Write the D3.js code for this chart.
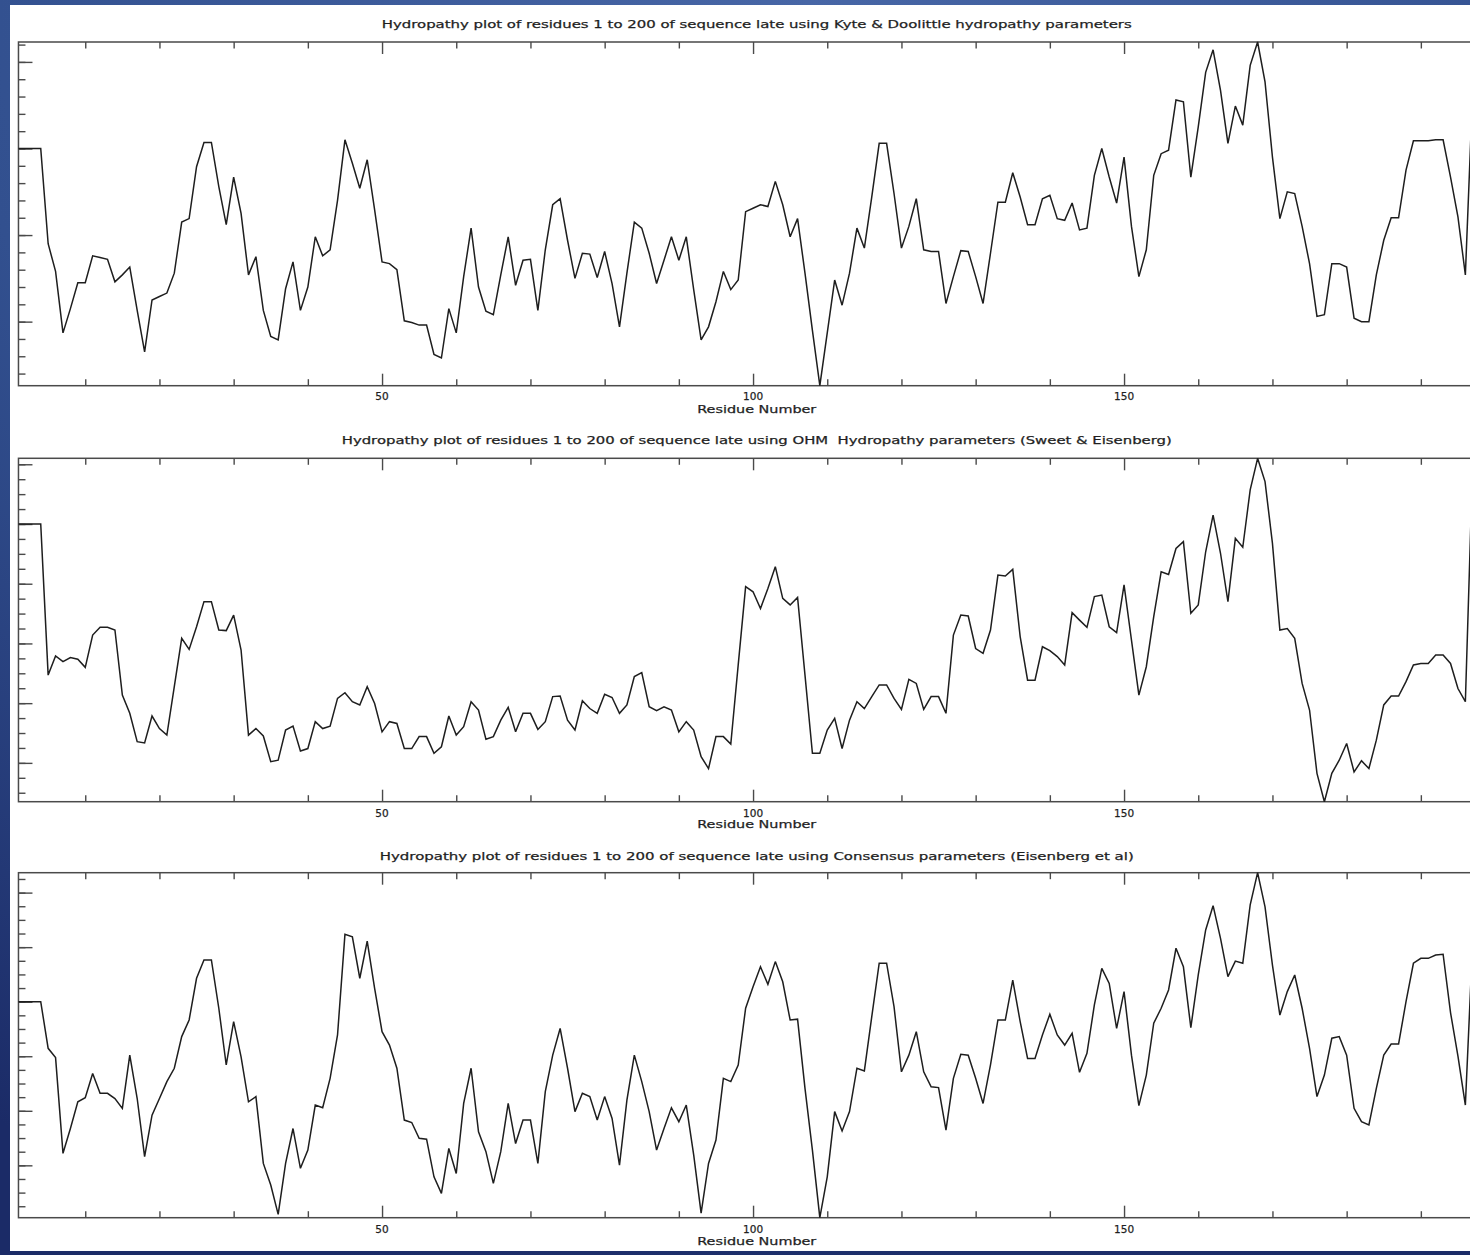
<!DOCTYPE html>
<html><head><meta charset="utf-8">
<script src="https://cdn.jsdelivr.net/npm/d3@7/dist/d3.min.js"></script>
<style>html,body{margin:0;padding:0;background:#fff;overflow:hidden}svg{display:block}</style>
</head><body>
<svg id="c" width="1470" height="1255"></svg>
<script>
// ---------- DATA ----------
const residueStart = 1;
const residueEnd = 200;

const kyteDoolittle = [
 0, 0, 0, 0, -1.10, -1.42, -2.13, -1.85, -1.55, -1.55,
 -1.24, -1.26, -1.28, -1.54, -1.46, -1.37, -1.87, -2.35, -1.75, -1.71,
 -1.67, -1.44, -0.85, -0.81, -0.21, 0.07, 0.07, -0.44, -0.88, -0.33,
 -0.75, -1.46, -1.25, -1.87, -2.17, -2.21, -1.62, -1.31, -1.87, -1.60,
 -1.02, -1.24, -1.17, -0.60, 0.10, -0.17, -0.46, -0.13, -0.71, -1.31,
 -1.33, -1.40, -1.99, -2.01, -2.04, -2.04, -2.38, -2.42, -1.85, -2.13,
 -1.48, -0.92, -1.60, -1.88, -1.92, -1.46, -1.02, -1.58, -1.29, -1.28,
 -1.87, -1.17, -0.65, -0.58, -1.06, -1.50, -1.21, -1.22, -1.49, -1.19,
 -1.56, -2.06, -1.44, -0.85, -0.92, -1.21, -1.56, -1.29, -1.02, -1.29,
 -1.02, -1.63, -2.21, -2.06, -1.77, -1.42, -1.63, -1.52, -0.73, -0.69,
 -0.65, -0.67, -0.38, -0.65, -1.02, -0.81, -1.44, -2.10, -2.74, -2.13,
 -1.52, -1.81, -1.44, -0.92, -1.15, -0.56, 0.06, 0.06, -0.52, -1.15,
 -0.90, -0.58, -1.17, -1.19, -1.19, -1.79, -1.48, -1.18, -1.19, -1.48,
 -1.79, -1.21, -0.62, -0.62, -0.28, -0.56, -0.88, -0.88, -0.58, -0.54,
 -0.81, -0.83, -0.63, -0.94, -0.92, -0.31, 0.00, -0.33, -0.63, -0.10,
 -0.90, -1.48, -1.17, -0.31, -0.06, -0.02, 0.56, 0.54, -0.33, 0.25,
 0.88, 1.14, 0.67, 0.06, 0.49, 0.27, 0.96, 1.23, 0.77, -0.10,
 -0.81, -0.50, -0.52, -0.90, -1.33, -1.94, -1.92, -1.33, -1.33, -1.37,
 -1.96, -2.00, -2.00, -1.46, -1.06, -0.80, -0.80, -0.25, 0.09, 0.09,
 0.09, 0.10, 0.10, -0.33, -0.79, -1.46, 0.70, 0.50, 0.30, 0.00
];

const ohmSweetEisenberg = [
 0, 0, 0, 0, -0.506, -0.442, -0.461, -0.447, -0.453, -0.480,
 -0.372, -0.346, -0.346, -0.355, -0.573, -0.634, -0.729, -0.733, -0.643, -0.685,
 -0.707, -0.545, -0.383, -0.420, -0.344, -0.260, -0.260, -0.355, -0.357, -0.305,
 -0.422, -0.707, -0.685, -0.710, -0.796, -0.791, -0.690, -0.677, -0.760, -0.752,
 -0.662, -0.685, -0.677, -0.584, -0.565, -0.595, -0.606, -0.545, -0.601, -0.696,
 -0.662, -0.668, -0.752, -0.752, -0.712, -0.712, -0.768, -0.746, -0.643, -0.707,
 -0.679, -0.595, -0.623, -0.721, -0.712, -0.657, -0.614, -0.696, -0.634, -0.634,
 -0.688, -0.662, -0.578, -0.576, -0.657, -0.690, -0.592, -0.618, -0.634, -0.570,
 -0.581, -0.634, -0.606, -0.511, -0.498, -0.612, -0.625, -0.612, -0.623, -0.696,
 -0.662, -0.690, -0.779, -0.819, -0.712, -0.712, -0.737, -0.472, -0.210, -0.227,
 -0.283, -0.216, -0.143, -0.249, -0.271, -0.246, -0.506, -0.768, -0.768, -0.690,
 -0.651, -0.752, -0.657, -0.595, -0.618, -0.578, -0.539, -0.539, -0.584, -0.621,
 -0.520, -0.534, -0.621, -0.578, -0.578, -0.634, -0.372, -0.305, -0.308, -0.417,
 -0.433, -0.355, -0.171, -0.174, -0.152, -0.377, -0.523, -0.523, -0.411, -0.424,
 -0.444, -0.472, -0.297, -0.322, -0.346, -0.243, -0.238, -0.344, -0.364, -0.204,
 -0.389, -0.573, -0.478, -0.310, -0.160, -0.169, -0.082, -0.059, -0.299, -0.271,
 -0.093, 0.030, -0.098, -0.260, -0.048, -0.078, 0.114, 0.220, 0.142, -0.065,
 -0.355, -0.350, -0.383, -0.534, -0.623, -0.835, -0.930, -0.835, -0.791, -0.735,
 -0.830, -0.793, -0.819, -0.724, -0.606, -0.576, -0.576, -0.528, -0.472, -0.467,
 -0.467, -0.439, -0.439, -0.467, -0.551, -0.595, 0.215, 0.150, 0.050, -0.100
];

const consensusEisenberg = [
 0, 0, 0, 0, -0.171, -0.205, -0.556, -0.465, -0.367, -0.352,
 -0.263, -0.336, -0.336, -0.355, -0.391, -0.196, -0.355, -0.568, -0.416, -0.355,
 -0.293, -0.244, -0.128, -0.067, 0.086, 0.153, 0.153, -0.024, -0.232, -0.073,
 -0.202, -0.367, -0.348, -0.593, -0.672, -0.780, -0.593, -0.465, -0.611, -0.544,
 -0.379, -0.389, -0.281, -0.122, 0.247, 0.238, 0.086, 0.222, 0.049, -0.110,
 -0.159, -0.244, -0.434, -0.443, -0.501, -0.504, -0.642, -0.703, -0.538, -0.630,
 -0.373, -0.244, -0.477, -0.550, -0.666, -0.550, -0.373, -0.520, -0.434, -0.434,
 -0.593, -0.330, -0.196, -0.098, -0.244, -0.403, -0.336, -0.348, -0.434, -0.348,
 -0.428, -0.599, -0.361, -0.196, -0.293, -0.403, -0.544, -0.465, -0.389, -0.440,
 -0.379, -0.562, -0.775, -0.593, -0.507, -0.281, -0.293, -0.232, -0.024, 0.055,
 0.128, 0.064, 0.147, 0.073, -0.067, -0.064, -0.318, -0.544, -0.792, -0.642,
 -0.403, -0.474, -0.403, -0.244, -0.254, -0.055, 0.141, 0.141, -0.018, -0.257,
 -0.196, -0.110, -0.257, -0.312, -0.315, -0.471, -0.281, -0.193, -0.196, -0.281,
 -0.373, -0.232, -0.067, -0.067, 0.079, -0.073, -0.208, -0.208, -0.122, -0.046,
 -0.122, -0.159, -0.116, -0.259, -0.189, -0.012, 0.122, 0.067, -0.098, 0.037,
 -0.196, -0.381, -0.269, -0.079, -0.024, 0.043, 0.196, 0.128, -0.095, 0.098,
 0.263, 0.352, 0.232, 0.092, 0.149, 0.141, 0.355, 0.473, 0.348, 0.134,
 -0.049, 0.037, 0.098, -0.024, -0.171, -0.348, -0.269, -0.134, -0.128, -0.196,
 -0.391, -0.440, -0.452, -0.318, -0.196, -0.155, -0.155, 0.000, 0.141, 0.159,
 0.159, 0.171, 0.174, -0.040, -0.200, -0.379, 0.230, 0.150, 0.080, 0.000
];

const plotTitles = [
 "Hydropathy plot of residues 1 to 200 of sequence late using Kyte & Doolittle hydropathy parameters",
 "Hydropathy plot of residues 1 to 200 of sequence late using OHM  Hydropathy parameters (Sweet & Eisenberg)",
 "Hydropathy plot of residues 1 to 200 of sequence late using Consensus parameters (Eisenberg et al)"
];
const xAxisTitle = "Residue Number";
const xMinorTickValues = [10, 20, 30, 40, 60, 70, 80, 90, 110, 120, 130, 140, 160, 170, 180, 190, 200];
const xMajorTickValues = [50, 100, 150];
const xMajorTickLabels = ["50", "100", "150"];
const yMinorStep = [0.2, 0.05, 0.05];
const yMajorStep = [1.0, 0.2, 0.2];

// ---------- LAYOUT (pixels) ----------
const W = 1470, H = 1255;
const panels = [
 {data: kyteDoolittle,      top: 42,    bottom: 385.7,  titleY: 28.3,  tickY: 400,    axisTitleY: 412.5, titleLen: 750},
 {data: ohmSweetEisenberg,  top: 458.3, bottom: 801.7,  titleY: 444,   tickY: 816.5,  axisTitleY: 828.3, titleLen: 830},
 {data: consensusEisenberg, top: 872.7, bottom: 1217.7, titleY: 859.7, tickY: 1233,   axisTitleY: 1244.5, titleLen: 754}
];

const svg = d3.select("#c");
const defs = svg.append("defs");
const rg = defs.append("radialGradient").attr("id", "bg")
  .attr("cx", "0.55").attr("cy", "0").attr("r", "1.05");
rg.append("stop").attr("offset", "0").attr("stop-color", "#4766a6");
rg.append("stop").attr("offset", "0.55").attr("stop-color", "#32508f");
rg.append("stop").attr("offset", "1").attr("stop-color", "#1b2b67");
defs.append("clipPath").attr("id", "paper").append("rect")
  .attr("x", 10).attr("y", 5).attr("width", W - 10).attr("height", 1246);

svg.append("rect").attr("width", W).attr("height", H).attr("fill", "url(#bg)");
svg.append("rect").attr("x", 10).attr("y", 5).attr("width", W - 10).attr("height", 1246).attr("fill", "#ffffff");

const root = svg.append("g").attr("clip-path", "url(#paper)");

const residues = d3.range(residueStart, residueEnd + 1);
const x = d3.scaleLinear().domain([residueStart, residueEnd]).range([18.47, 1495.05]);

const FONT = "'DejaVu Sans', 'Liberation Sans', sans-serif";
const ink = "#1f1f1f";

function stepTicks(lo, hi, step) {
  const out = [];
  const s = Math.ceil(lo / step - 1e-9), e = Math.floor(hi / step + 1e-9);
  for (let k = s; k <= e; k++) out.push(+(k * step).toFixed(6));
  return out;
}

function addText(g, xx, yy, str, len) {
  const t = g.append("text").attr("x", xx).attr("y", yy)
    .attr("text-anchor", "middle").attr("font-family", FONT).attr("font-size", 10.5)
    .attr("fill", ink).attr("stroke", ink).attr("stroke-width", 0.25)
    .attr("xml:space", "preserve").style("white-space", "pre")
    .text(str);
  if (len) t.attr("textLength", len).attr("lengthAdjust", "spacingAndGlyphs");
  return t;
}

panels.forEach((p, i) => {
  const g = root.append("g");
  const ext = d3.extent(p.data);
  const y = d3.scaleLinear().domain(ext).range([p.bottom, p.top]);

  // title
  addText(g, x(100.5), p.titleY, plotTitles[i], p.titleLen);

  // frame
  g.append("rect").attr("x", x(residueStart)).attr("y", p.top)
    .attr("width", x(residueEnd) - x(residueStart)).attr("height", p.bottom - p.top)
    .attr("fill", "none").attr("stroke", "#4a4a4a").attr("stroke-width", 1.5);

  const styleAxis = sel => {
    sel.select(".domain").remove();
    sel.selectAll(".tick line").attr("stroke", "#4a4a4a").attr("stroke-width", 1.4);
    sel.selectAll(".tick text").remove();
  };

  // x ticks: bottom (pointing up) and top (pointing down)
  g.append("g").attr("transform", `translate(0,${p.bottom})`)
    .call(d3.axisBottom(x).tickValues(xMinorTickValues).tickSize(-6.5).tickFormat(""))
    .call(styleAxis);
  g.append("g").attr("transform", `translate(0,${p.bottom})`)
    .call(d3.axisBottom(x).tickValues(xMajorTickValues).tickSize(-12).tickFormat(""))
    .call(styleAxis);
  g.append("g").attr("transform", `translate(0,${p.top})`)
    .call(d3.axisTop(x).tickValues(xMinorTickValues).tickSize(-6.5).tickFormat(""))
    .call(styleAxis);
  g.append("g").attr("transform", `translate(0,${p.top})`)
    .call(d3.axisTop(x).tickValues(xMajorTickValues).tickSize(-12).tickFormat(""))
    .call(styleAxis);

  // x tick labels
  xMajorTickValues.forEach((v, k) => addText(g, x(v), p.tickY, xMajorTickLabels[k], null));
  addText(g, x(100.5), p.axisTitleY, xAxisTitle, 119);

  // y ticks (left axis, pointing right into plot)
  const minors = stepTicks(ext[0], ext[1], yMinorStep[i]);
  const majors = stepTicks(ext[0], ext[1], yMajorStep[i]);
  g.append("g").attr("transform", `translate(${x(residueStart)},0)`)
    .call(d3.axisRight(y).tickValues(minors).tickSize(7).tickFormat(""))
    .call(styleAxis);
  g.append("g").attr("transform", `translate(${x(residueStart)},0)`)
    .call(d3.axisRight(y).tickValues(majors).tickSize(14).tickFormat(""))
    .call(styleAxis);

  // data line
  const line = d3.line().x((d, k) => x(residues[k])).y(d => y(d));
  g.append("path").datum(p.data).attr("d", line)
    .attr("fill", "none").attr("stroke", "#1e1e1e").attr("stroke-width", 1.5)
    .attr("stroke-linejoin", "miter").attr("stroke-miterlimit", 3);
});
</script>
</body></html>
